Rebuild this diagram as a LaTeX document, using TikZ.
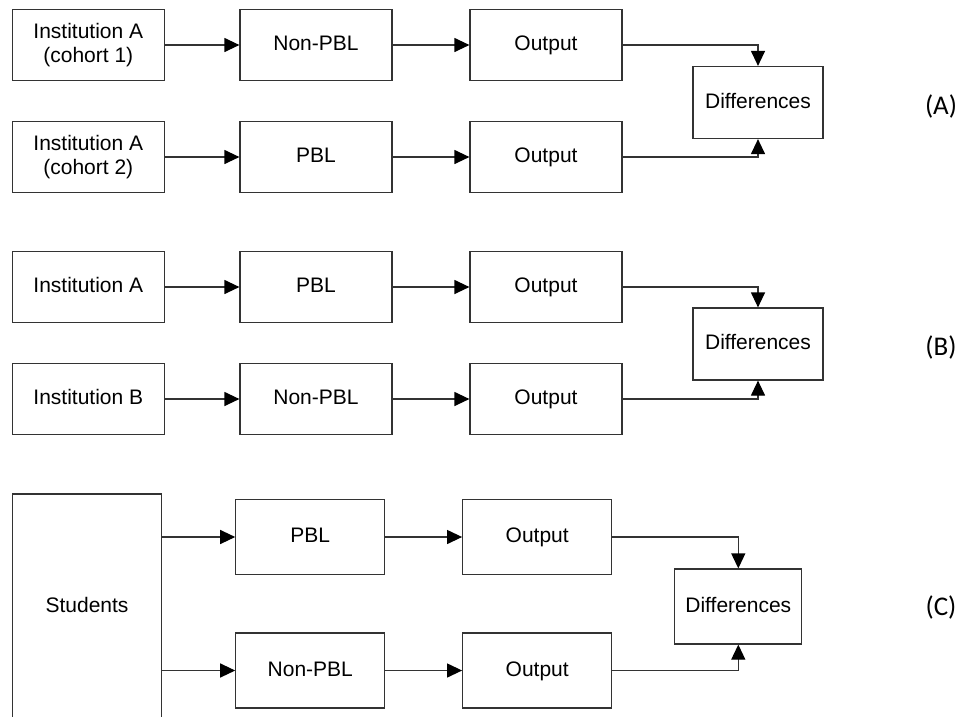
\documentclass[tikz,border=0pt]{standalone}
\usepackage{fontspec}
\usetikzlibrary{arrows.meta}
\newfontfamily\boxfont{Liberation Sans}
\newfontfamily\labfont{Carlito}
\definecolor{linec}{HTML}{333333}
\begin{document}
\begin{tikzpicture}[x=1pt,y=-1pt,
  box/.style={draw=linec, line width=1.2pt, inner sep=0pt, align=center,
    font=\boxfont\fontsize{21}{24}\selectfont,
    minimum width=152pt, minimum height=71pt},
  onebox/.style={box, text height=15pt, text depth=4pt},
  diffbox/.style={onebox, minimum width=130pt, minimum height=72pt},
  cbox/.style={onebox, minimum width=149pt, minimum height=75pt},
  conn/.style={draw=linec, line width=1.2pt,
    -{Triangle[length=15pt,width=14pt,color=black]}},
  tag/.style={font=\labfont\fontsize{27}{32}\selectfont, inner sep=0pt}]
\useasboundingbox (0,0) rectangle (959,716);

% ---- Design (A): two cohorts of one institution
\node[box] (a1) at (88.3,45) {Institution A\\(cohort 1)};
\node[onebox] (a2) at (316,45) {Non-PBL};
\node[onebox] (a3) at (546,45) {Output};
\node[box] (a4) at (88.3,157) {Institution A\\(cohort 2)};
\node[onebox] (a5) at (316,157) {PBL};
\node[onebox] (a6) at (546,157) {Output};
\node[diffbox] (ad) at (758,102.5) {Differences};
\node[tag] (ta) at (941,106) {(A)};
\draw[conn] (a1) -- (a2);
\draw[conn] (a2) -- (a3);
\draw[conn] (a4) -- (a5);
\draw[conn] (a5) -- (a6);
\draw[conn] (a3.east) -| (ad.north);
\draw[conn] (a6.east) -| (ad.south);

% ---- Design (B): two institutions
\node[onebox] (b1) at (88.3,287) {Institution A};
\node[onebox] (b2) at (316,287) {PBL};
\node[onebox] (b3) at (546,287) {Output};
\node[onebox] (b4) at (88.3,399) {Institution B};
\node[onebox] (b5) at (316,399) {Non-PBL};
\node[onebox] (b6) at (546,399) {Output};
\node[diffbox] (bd) at (758,344) {Differences};
\node[tag] (tb) at (941,347) {(B)};
\draw[conn] (b1) -- (b2);
\draw[conn] (b2) -- (b3);
\draw[conn] (b4) -- (b5);
\draw[conn] (b5) -- (b6);
\draw[conn] (b3.east) -| (bd.north);
\draw[conn] (b6.east) -| (bd.south);

% ---- Design (C): one group of students split in two
\node[onebox, minimum width=149.4pt, minimum height=226pt] (cs) at (87,607) {Students};
\node[cbox] (c2) at (310.3,537) {PBL};
\node[cbox] (c3) at (537.2,537) {Output};
\node[cbox] (c5) at (310.3,670.5) {Non-PBL};
\node[cbox] (c6) at (537.2,670.5) {Output};
\node[diffbox, minimum width=127pt, minimum height=75pt] (cd) at (738.3,606.5) {Differences};
\node[tag] (tc) at (941,607) {(C)};
\draw[conn] (cs.east |- c2.west) -- (c2.west);
\draw[conn] (cs.east |- c5.west) -- (c5.west);
\draw[conn] (c2) -- (c3);
\draw[conn] (c5) -- (c6);
\draw[conn] (c3.east) -| (cd.north);
\draw[conn] (c6.east) -| (cd.south);
\end{tikzpicture}
\end{document}
